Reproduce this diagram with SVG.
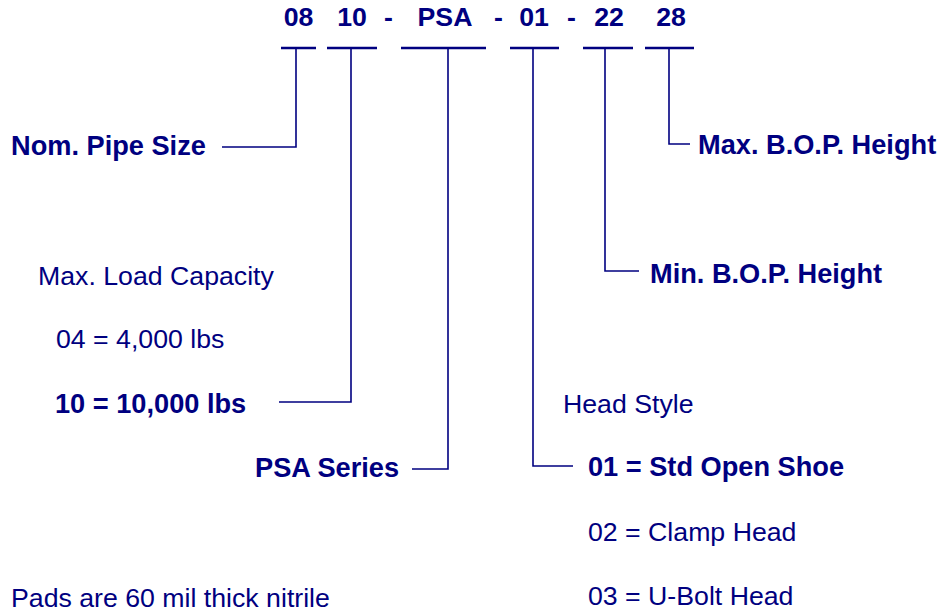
<svg xmlns="http://www.w3.org/2000/svg" width="942" height="613" viewBox="0 0 942 613">
<style>
text{font-family:"Liberation Sans",Arial,sans-serif;font-size:26.7px;fill:#000080}
.b{font-weight:bold;font-size:27.2px}
.h{text-anchor:middle;font-weight:bold}
.bar{stroke:#000080;stroke-width:2.4;fill:none}
.c{stroke:#000080;stroke-width:1.6;fill:none}
</style>
<rect width="942" height="613" fill="#fff"/>
<g id="header">
<text class="h" x="298.5" y="26">08</text>
<text class="h" x="352" y="26">10</text>
<text class="h" x="388.5" y="26">-</text>
<text class="h" x="445" y="26">PSA</text>
<text class="h" x="498.5" y="26">-</text>
<text class="h" x="534" y="26">01</text>
<text class="h" x="571.5" y="26">-</text>
<text class="h" x="609" y="26">22</text>
<text class="h" x="671" y="26">28</text>
<line class="bar" x1="281" y1="48" x2="316" y2="48"/>
<line class="bar" x1="327" y1="48" x2="377" y2="48"/>
<line class="bar" x1="401" y1="48" x2="486" y2="48"/>
<line class="bar" x1="510" y1="48" x2="559" y2="48"/>
<line class="bar" x1="583" y1="48" x2="633" y2="48"/>
<line class="bar" x1="645" y1="48" x2="694" y2="48"/>
</g>
<g id="connectors">
<polyline class="c" points="296,48 296,147 222,147"/>
<polyline class="c" points="351,48 351,402 279,402"/>
<polyline class="c" points="448,48 448,469 412,469"/>
<polyline class="c" points="533,48 533,466 573,466"/>
<polyline class="c" points="605,48 605,271 639,271"/>
<polyline class="c" points="669,48 669,144 690,144"/>
</g>
<g id="pipe-size"><text class="b" x="11" y="155">Nom. Pipe Size</text></g>
<g id="load-capacity">
<text x="38" y="285">Max. Load Capacity</text>
<text x="56" y="348">04 = 4,000 lbs</text>
<text class="b" x="55" y="413">10 = 10,000 lbs</text>
</g>
<g id="psa-series"><text class="b" x="255" y="477">PSA Series</text></g>
<g id="head-style">
<text x="563" y="413">Head Style</text>
<text class="b" x="588" y="476">01 = Std Open Shoe</text>
<text x="588" y="541">02 = Clamp Head</text>
<text x="588" y="605">03 = U-Bolt Head</text>
</g>
<g id="min-bop"><text class="b" x="650" y="283">Min. B.O.P. Height</text></g>
<g id="max-bop"><text class="b" x="698" y="154">Max. B.O.P. Height</text></g>
<g id="note"><text x="11" y="607">Pads are 60 mil thick nitrile</text></g>
</svg>
